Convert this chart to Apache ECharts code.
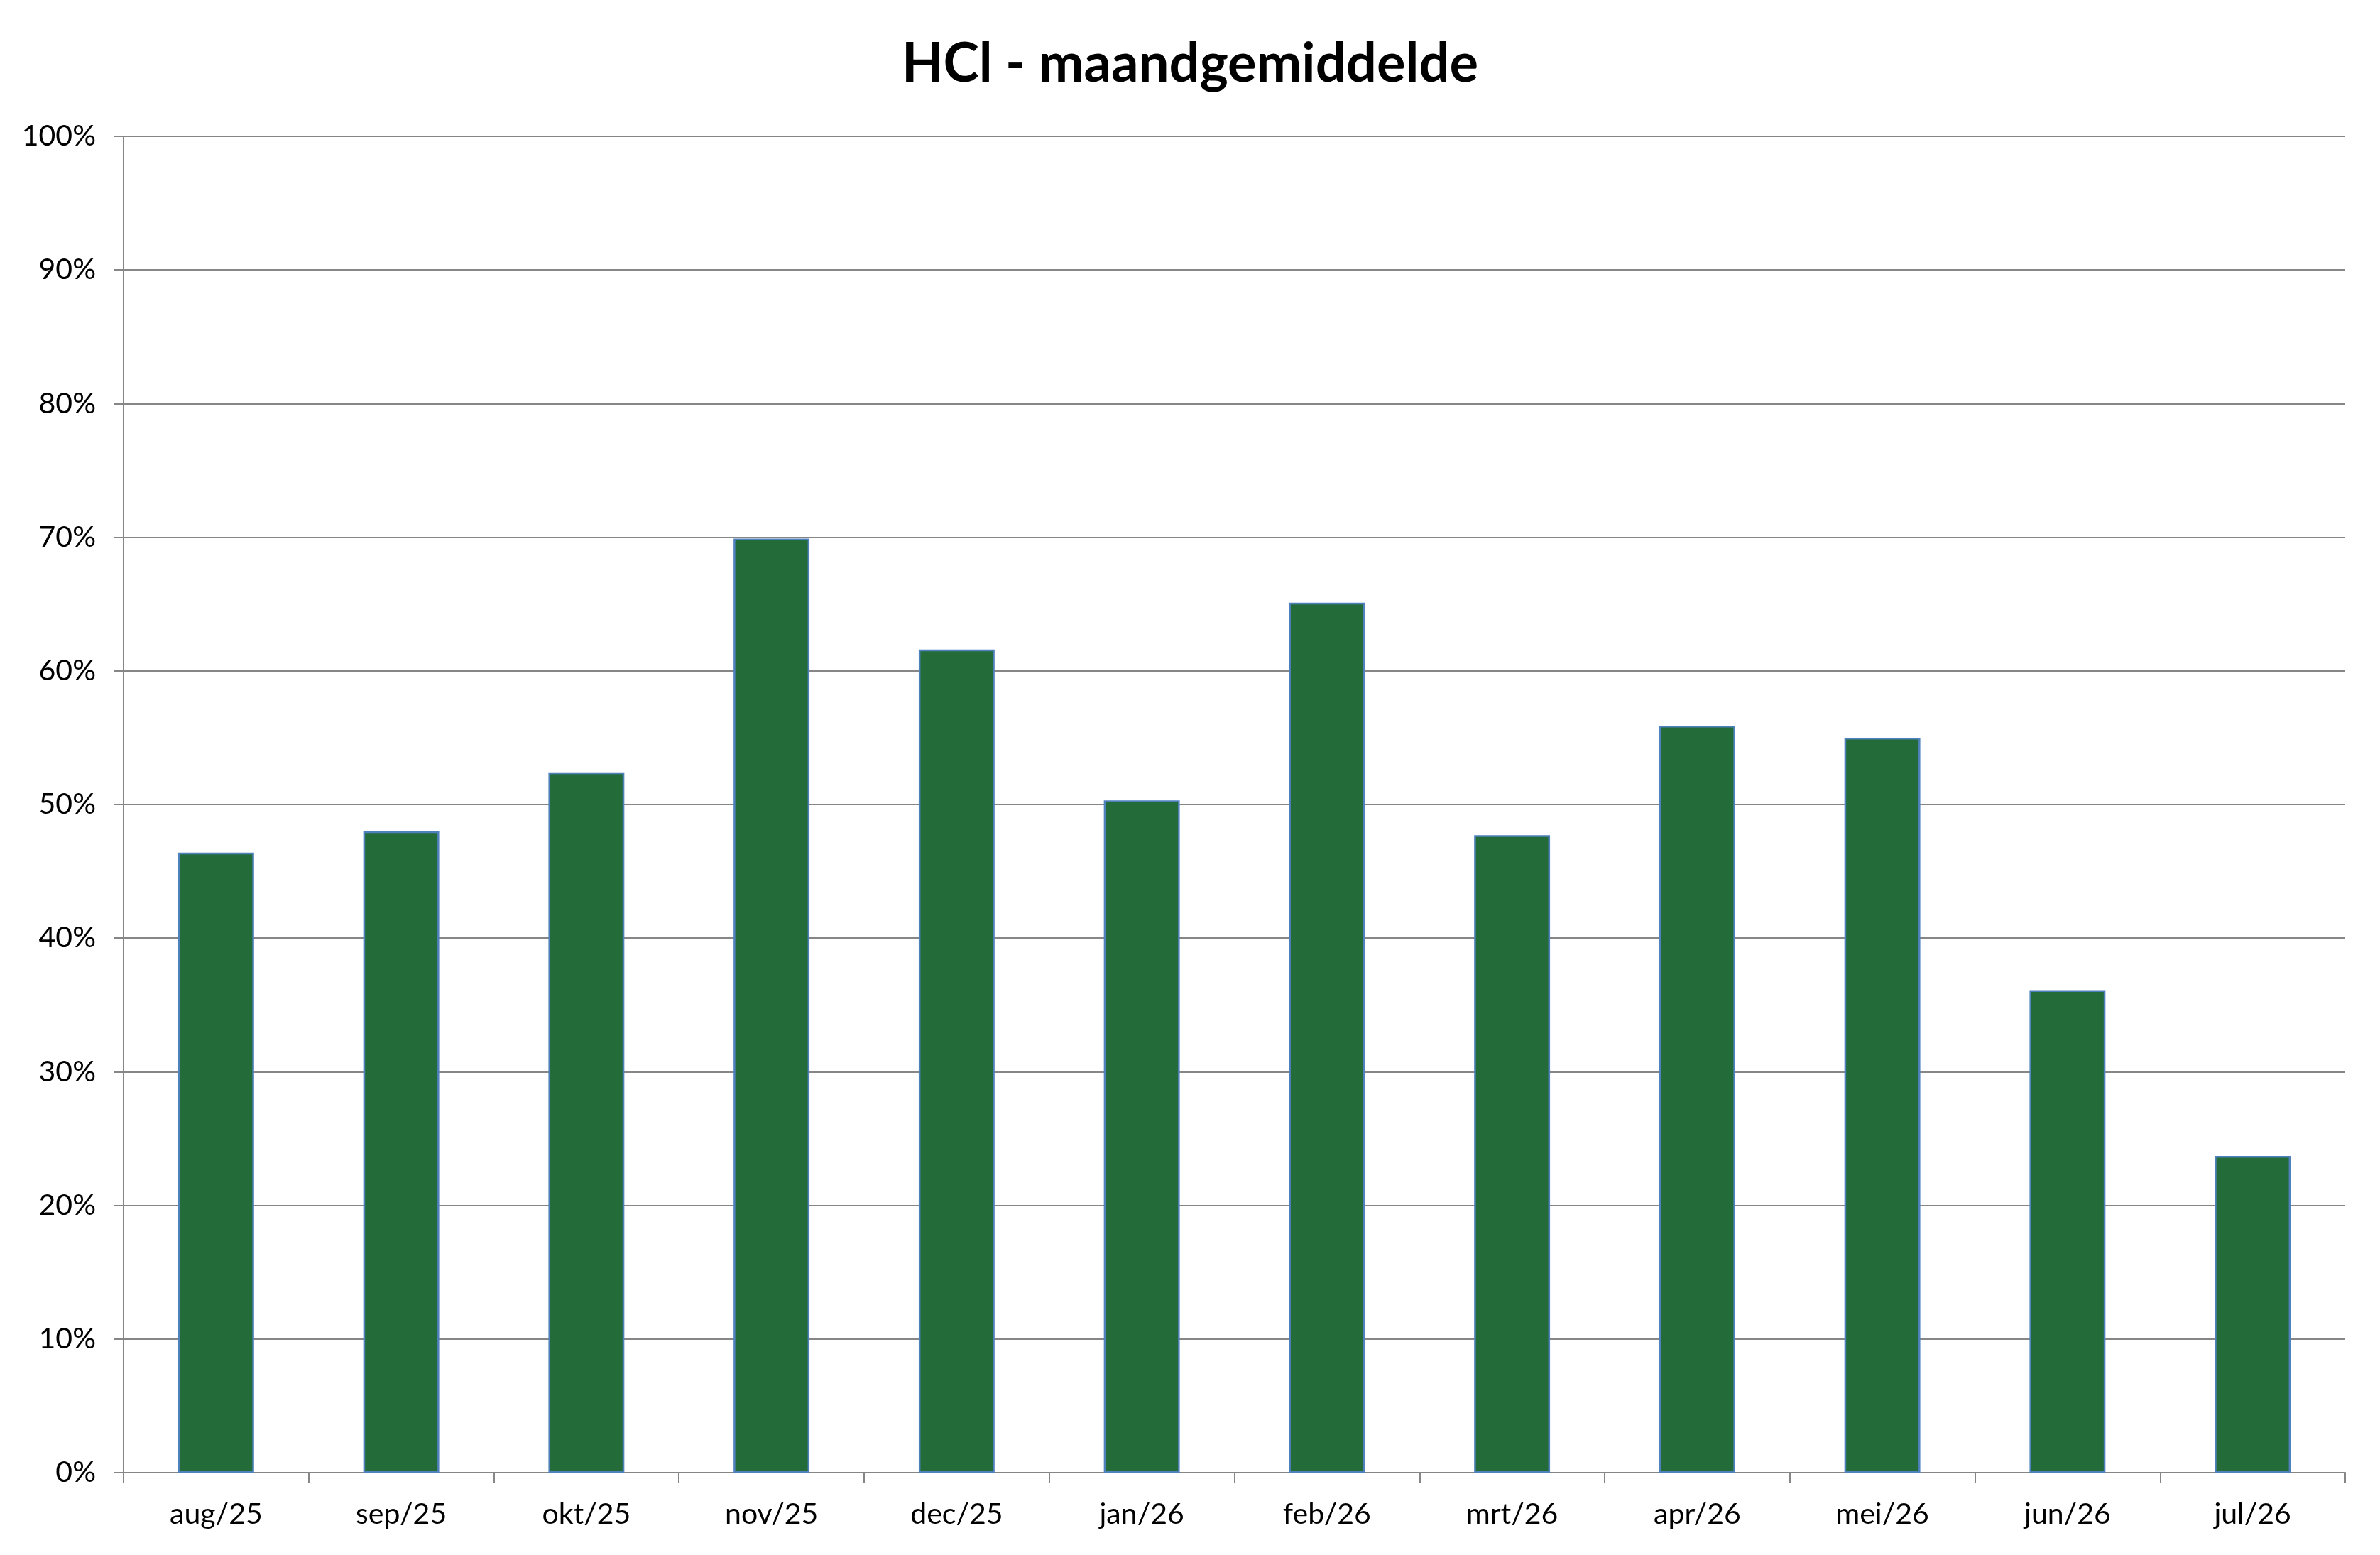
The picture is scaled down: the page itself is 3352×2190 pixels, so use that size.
<!DOCTYPE html>
<html>
<head>
<meta charset="utf-8">
<script src="https://cdn.jsdelivr.net/npm/echarts@6/dist/echarts.min.js"></script>
<style>
html,body{margin:0;padding:0;background:#fff;}
#chart{width:3352px;height:2190px;}
</style>
</head>
<body>
<div id="chart"></div>
<script>
const titleText = 'HCl - maandgemiddelde';
const categories = ['aug/25','sep/25','okt/25','nov/25','dec/25','jan/26','feb/26','mrt/26','apr/26','mei/26','jun/26','jul/26'];
const values = [46.4, 48.0, 52.4, 69.9, 61.6, 50.3, 65.1, 47.7, 55.9, 55.0, 36.1, 23.7];
const yTicks = [0, 10, 20, 30, 40, 50, 60, 70, 80, 90, 100];

const chart = echarts.init(document.getElementById('chart'));
const font = 'Lato, "Noto Sans", sans-serif';
chart.setOption({
  animation: false,
  backgroundColor: '#ffffff',
  title: {
    text: titleText,
    left: 'center',
    top: 47,
    textStyle: { fontFamily: font, fontWeight: 'bold', fontSize: 76, color: '#000' }
  },
  grid: { left: 174, right: 49, top: 192, bottom: 116, containLabel: false },
  xAxis: {
    type: 'category',
    data: categories,
    axisLine: { show: true, lineStyle: { color: '#868686', width: 2 } },
    axisTick: { show: true, length: 14, lineStyle: { color: '#868686', width: 2 } },
    axisLabel: { fontFamily: font, fontSize: 41, color: '#000', margin: 38 },
    splitLine: { show: false }
  },
  yAxis: {
    type: 'value',
    min: yTicks[0],
    max: yTicks[yTicks.length - 1],
    interval: yTicks[1] - yTicks[0],
    axisLine: { show: true, lineStyle: { color: '#868686', width: 2 } },
    axisTick: { show: true, length: 13, lineStyle: { color: '#868686', width: 2 } },
    axisLabel: { fontFamily: font, fontSize: 41, color: '#000', margin: 39, formatter: v => v + '%' },
    splitLine: { show: true, lineStyle: { color: '#868686', width: 2 } }
  },
  series: [{
    type: 'bar',
    data: values,
    barCategoryGap: '59%',
    itemStyle: { color: '#236B39', borderColor: '#4F81BD', borderWidth: 2.5 }
  }]
});
</script>
</body>
</html>
